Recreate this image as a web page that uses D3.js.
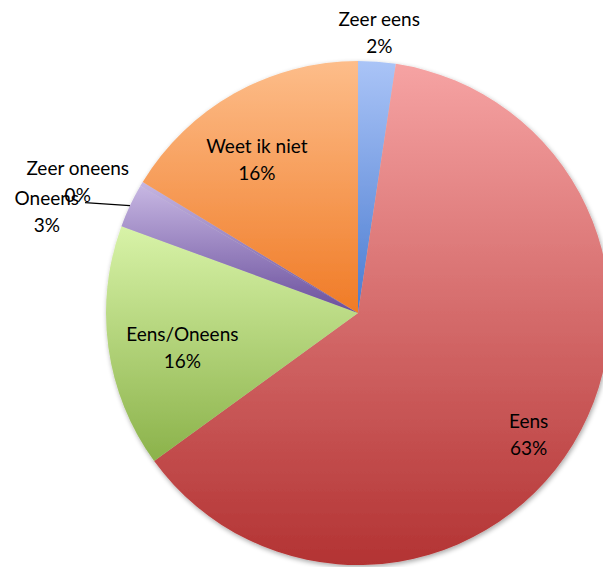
<!DOCTYPE html>
<html>
  <head>
  <title>Pie</title>
  <style>
    body, html {
      margin: 0;
      padding: 0;
      background: #fff;
      overflow: hidden;
    }
    text {
      font-family: Lato, "Open Sans", sans-serif;
      font-size: 19px;
      fill: #000;
    }
  </style>
  </head>
  <body>

  <svg id="svg" width="603" height="567"></svg>

  <script src="https://d3js.org/d3.v7.min.js"></script>
  <script>
    const categories = ['Zeer eens', 'Eens', 'Eens/Oneens', 'Oneens', 'Zeer oneens', 'Weet ik niet']
    const values = [2.4, 62.6, 15.6, 2.8, 0.3, 16.3]
    const topColors = ['#aac4f7', '#f6a3a3', '#d8f3a8', '#c6b6e2', '#c6b6e2', '#fdbd8a']
    const bottomColors = ['#4a7bd0', '#b33333', '#8bb24a', '#6a4f9c', '#6a4f9c', '#f07b26']

    const cx = 358, cy = 313, radius = 252
    const svg = d3.select('#svg')
    const defs = svg.append('defs')

    const shadow = defs.append('filter').attr('id', 'shadow')
      .attr('x', '-10%').attr('y', '-10%').attr('width', '120%').attr('height', '120%')
    shadow.append('feGaussianBlur').attr('in', 'SourceAlpha').attr('stdDeviation', 2.5)
    shadow.append('feOffset').attr('dx', 1).attr('dy', 2).attr('result', 'b')
    shadow.append('feComponentTransfer').append('feFuncA').attr('type', 'linear').attr('slope', 0.35)
    const merge = shadow.append('feMerge')
    merge.append('feMergeNode')
    merge.append('feMergeNode').attr('in', 'SourceGraphic')

    categories.forEach((c, i) => {
      const g = defs.append('linearGradient').attr('id', 'grad' + i)
        .attr('x1', 0).attr('y1', 0).attr('x2', 0).attr('y2', 1)
      g.append('stop').attr('offset', '0%').attr('stop-color', topColors[i])
      g.append('stop').attr('offset', '100%').attr('stop-color', bottomColors[i])
    })

    const data = categories.map((c, i) => ({ label: c, value: values[i], i }))
    const pie = d3.pie().sort(null).value(d => d.value)
    const arcs = pie(data)
    const arc = d3.arc().innerRadius(0).outerRadius(radius)

    const g = svg.append('g').attr('transform', `translate(${cx},${cy})`)
    g.append('g').attr('filter', 'url(#shadow)')
      .selectAll('path')
      .data(arcs)
      .enter()
      .append('path')
      .attr('d', arc)
      .attr('fill', d => `url(#grad${d.data.i})`)

    const fmt = v => Math.round(v) + '%'
    const mid = d => (d.startAngle + d.endAngle) / 2

    // label placement: radius factor and angle nudge (degrees) per slice
    const labelPos = {
      'Zeer eens': { r: 1.12, da: 0 },
      'Eens': { r: 0.83, da: 4 },
      'Eens/Oneens': { r: 0.71, da: -3 },
      'Oneens': { r: 1.30, da: -7 },
      'Zeer oneens': { r: 1.23, da: -5.5 },
      'Weet ik niet': { r: 0.73, da: -4 }
    }

    arcs.forEach(d => {
      const p = labelPos[d.data.label]
      const a = mid(d) + p.da * Math.PI / 180
      const [x, y] = d3.pointRadial(a, radius * p.r)
      const t = g.append('text').attr('text-anchor', 'middle')
      t.append('tspan').attr('x', x).attr('y', y - 6).text(d.data.label)
      t.append('tspan').attr('x', x).attr('y', y + 21).text(fmt(d.data.value))
    })

    // leader line for Oneens
    const oneens = arcs.find(d => d.data.label === 'Oneens')
    const [ex, ey] = d3.pointRadial(mid(oneens), radius)
    g.append('line')
      .attr('x1', ex).attr('y1', ey)
      .attr('x2', 85 - cx).attr('y2', ey - 3)
      .attr('stroke', '#000').attr('stroke-width', 1.3)
  </script>
  </body>
</html>
